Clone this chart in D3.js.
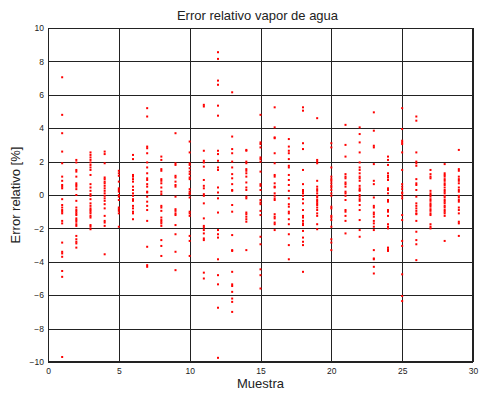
<!DOCTYPE html>
<html><head><meta charset="utf-8">
<script src="https://cdn.jsdelivr.net/npm/d3@7"></script>
<style>body{margin:0;background:#fff}text{font-family:"Liberation Sans",Arial,sans-serif}</style>
</head><body><svg id="c" width="481" height="394"></svg>
<script>
const title = "Error relativo vapor de agua";
const xLabel = "Muestra";
const yLabel = "Error relativo [%]";
const xTicks = [0,5,10,15,20,25,30];
const yTicks = [-10,-8,-6,-4,-2,0,2,4,6,8,10];
const samples = [1,2,3,4,5,6,7,8,9,10,11,12,13,14,15,16,17,18,19,20,21,22,23,24,25,26,27,28,29];
const errors = [
 [7.05,4.8,3.7,2.6,1.9,1.1,0.85,0.6,0.5,0.4,-0.25,-0.6,-0.75,-0.9,-1.0,-1.1,-1.55,-1.7,-2.85,-3.4,-3.5,-3.7,-4.55,-4.9,-9.7],
 [2.1,1.95,1.5,1.4,1.1,0.7,0.6,0.5,0.35,0,-0.35,-0.75,-0.9,-1.0,-1.1,-1.2,-1.4,-1.5,-1.6,-1.75,-1.85,-2.45,-2.65,-2.8,-2.9,-3.15],
 [2.55,2.4,2.25,2.1,1.95,1.8,1.65,1.5,1.2,0.65,0.45,0.25,0.05,-0.05,-0.25,-0.5,-0.65,-0.8,-0.9,-1.0,-1.1,-1.25,-1.35,-1.8,-1.9,-2.05],
 [2.6,2.45,1.9,1.05,0.95,0.8,0.7,0.55,0.4,0.25,0.1,-0.05,-0.2,-0.35,-0.55,-0.8,-1.25,-1.55,-1.65,-1.85,-3.55],
 [1.45,1.3,1.15,0.8,0.4,0.3,0.2,0,-0.1,-0.3,-0.75,-0.85,-0.95,-1.1,-1.9],
 [2.4,2.15,1.2,1.1,0.95,0.8,0.5,0.3,0.1,-0.05,-0.25,-0.35,-0.65,-0.8,-1.0,-1.1,-1.45],
 [5.2,4.7,2.9,2.8,2.5,1.95,1.65,1.3,1.0,0.9,0.65,0.5,0.2,0.15,-0.1,-0.4,-0.65,-0.9,-1.55,-3.1,-4.2,-4.3],
 [2.3,2.1,1.55,1.45,0.95,0.85,0.7,0.45,0.2,0.05,-0.65,-0.75,-0.95,-1.35,-1.5,-1.6,-1.7,-1.85,-2.7,-3.05,-3.65],
 [3.7,1.9,1.8,1.15,1.05,0.8,0.6,0.5,-0.1,-0.85,-0.95,-1.1,-1.2,-1.8,-2.35,-3.4,-4.5],
 [3.2,2.55,1.9,1.8,1.6,1.4,1.25,1.05,0.95,0.35,0.2,0.1,0.05,-0.15,-1.0,-1.1,-1.25,-2.45,-2.75,-3.65],
 [5.4,5.3,2.65,2.05,1.95,1.7,0.9,0.55,0.4,0.05,-0.05,-0.5,-1.4,-1.85,-1.95,-2.1,-2.3,-2.6,-2.7,-4.65,-5.0],
 [8.55,8.15,6.85,6.6,5.35,4.75,2.65,2.45,2.05,1.65,1.5,0.45,0.15,-0.2,-1.05,-2.1,-2.35,-2.55,-3.85,-4.8,-5.35,-6.75,-9.75],
 [6.15,3.5,2.75,2.5,2.0,1.65,1.25,1.0,0.65,0.3,0.25,-0.6,-1.0,-2.4,-3.3,-3.35,-4.6,-5.35,-5.45,-5.8,-6.2,-6.4,-7.0],
 [2.7,2.65,2.0,1.9,1.55,1.45,1.3,1.1,0.75,0.45,0.3,-0.1,-0.2,-1.05,-1.15,-1.3,-1.45,-1.6,-3.3],
 [4.8,3.15,3.05,2.85,2.25,2.15,2.0,1.4,0.65,0.55,0.3,-0.3,-0.45,-0.55,-0.95,-1.2,-2.5,-2.95,-4.45,-4.8,-5.6],
 [5.25,4.05,3.45,3.4,2.5,1.9,1.2,1.1,0.7,0.5,0.45,0.1,-0.05,-0.2,-0.3,-1.15,-1.3,-1.4,-1.65,-1.75,-2.1],
 [3.35,2.9,2.65,2.5,2.15,1.75,1.65,1.2,0.9,0.6,0.25,-0.2,-0.55,-0.7,-1.0,-1.1,-1.45,-1.75,-2.35,-3.0,-3.85],
 [5.25,5.05,3.1,2.75,1.5,0.65,0.3,0.2,0.1,-0.05,-0.25,-0.5,-0.9,-1.25,-1.35,-1.55,-1.7,-1.8,-2.15,-2.55,-2.8,-3.0,-4.6],
 [4.6,2.1,2.0,1.9,0.85,0.5,0.35,0.25,0.1,-0.05,-0.15,-0.3,-0.4,-0.5,-0.6,-0.75,-0.9,-1.1,-1.25,-1.75,-2.05],
 [3.1,2.85,1.65,1.1,0.95,0.85,0.7,0.55,0.45,0.3,0.1,-0.05,-0.7,-0.8,-1.25,-1.35,-1.5,-1.9,-2.65,-2.85,-3.3],
 [4.2,3.0,2.3,1.25,1.1,1.0,0.75,0.65,0.5,0.2,0.1,-0.05,-0.3,-0.9,-1.0,-1.25,-1.55,-2.3],
 [4.05,3.65,3.15,2.55,1.95,1.65,1.5,1.3,1.1,1.0,0.85,0.55,0.4,0.3,0.25,0,-0.1,-0.25,-0.35,-0.6,-0.9,-1.5,-2.1,-2.5],
 [4.95,3.85,2.95,2.85,1.85,0.85,0.65,-0.15,-0.65,-0.75,-1.05,-1.15,-1.3,-1.55,-1.7,-1.9,-2.1,-3.3,-3.8,-3.85,-4.3,-4.7],
 [2.3,2.1,1.8,1.3,1.15,1.05,0.9,0.4,0.3,0.1,-0.3,-0.4,-0.9,-1.0,-1.25,-1.75,-1.9,-2.0,-3.15,-3.25,-3.35],
 [5.2,3.95,3.25,3.15,3.05,2.55,1.5,0.65,0.5,0.35,0.15,0.1,-0.05,-0.2,-1.2,-1.5,-2.75,-3.05,-4.75,-6.05,-6.35],
 [4.7,4.45,2.55,2.0,1.9,1.75,0.95,0.7,0.6,0.3,-0.1,-0.5,-0.65,-0.8,-0.95,-1.1,-1.15,-1.55,-2.2,-2.7,-2.95,-3.9],
 [1.5,1.25,1.1,1.0,0.25,0.1,0,-0.1,-0.25,-0.35,-0.5,-0.6,-0.7,-0.85,-0.95,-1.1,-1.2,-1.75,-1.9,-2.0],
 [1.85,1.3,1.2,1.1,0.95,0.85,0.7,0.6,0.45,0.3,0.2,0.1,-0.05,-0.15,-0.3,-0.4,-0.5,-0.65,-0.75,-0.9,-1.0,-1.1,-1.25,-2.75],
 [2.7,1.55,1.45,1.1,0.95,0.85,0.7,0.45,0.3,0.2,-0.05,-0.15,-0.3,-0.4,-0.75,-0.9,-1.1,-1.6,-1.7,-2.45]
];

const svg = d3.select("#c");
const L = 48, R = 473, T = 28, B = 362;
const x = d3.scaleLinear().domain([0,30]).range([L,R]);
const y = d3.scaleLinear().domain([-10,10]).range([B,T]);

// grid
const g = svg.append("g");
g.selectAll(".gx").data(xTicks).join("line")
  .attr("x1", d => Math.round(x(d))+0.5).attr("x2", d => Math.round(x(d))+0.5)
  .attr("y1", T).attr("y2", B).attr("stroke", "#222").attr("stroke-width", 1);
g.selectAll(".gy").data(yTicks).join("line")
  .attr("y1", d => Math.round(y(d))+0.5).attr("y2", d => Math.round(y(d))+0.5)
  .attr("x1", L).attr("x2", R).attr("stroke", "#222").attr("stroke-width", 1);

// axes
const fs = "8.5px";
const ax = svg.append("g").attr("transform", `translate(0,${B})`)
  .call(d3.axisBottom(x).tickValues(xTicks).tickSize(0).tickPadding(6));
const ay = svg.append("g").attr("transform", `translate(${L},0)`)
  .call(d3.axisLeft(y).tickValues(yTicks).tickSize(0).tickPadding(4).tickFormat(d3.format("d")));
[ax, ay].forEach(a => {
  a.select(".domain").remove();
  a.selectAll("text").attr("font-size", fs).attr("fill", "#222")
    .style("font-family", '"Liberation Sans",Arial,sans-serif');
});
svg.append("rect").attr("x", L+0.5).attr("y", T+0.5).attr("width", R-L-1).attr("height", B-T-1)
  .attr("fill", "none").attr("stroke", "#222");

// points
svg.append("g").selectAll("g").data(samples).join("g")
  .each(function(s, i) {
    d3.select(this).selectAll("rect").data(errors[i]).join("rect")
      .attr("x", x(s) - 1).attr("y", d => y(d) - 1)
      .attr("width", 2).attr("height", 2).attr("fill", "#ff0000");
  });

// labels
svg.append("text").attr("x", (L+R)/2 - 3).attr("y", 20).attr("text-anchor", "middle")
  .attr("font-size", "13px").attr("fill", "#222").text(title);
svg.append("text").attr("x", (L+R)/2).attr("y", 388).attr("text-anchor", "middle")
  .attr("font-size", "13px").attr("fill", "#222").text(xLabel);
svg.append("text").attr("transform", `translate(20,${(T+B)/2}) rotate(-90)`)
  .attr("text-anchor", "middle").attr("font-size", "13px").attr("fill", "#222").text(yLabel);
</script></body></html>
